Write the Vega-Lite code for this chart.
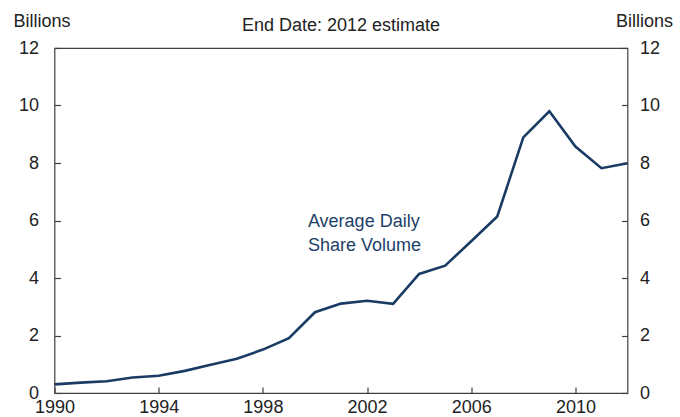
{
  "$schema": "https://vega.github.io/schema/vega-lite/v6.json",
  "width": 573,
  "height": 345,
  "autosize": {"type": "none"},
  "padding": {"left": 54.5, "top": 48, "right": 52.5, "bottom": 24},
  "background": "white",
  "config": {
    "font": "Liberation Sans",
    "view": {"stroke": "#404040", "strokeWidth": 1.2},
    "axis": {
      "domain": false,
      "grid": false,
      "tickColor": "#404040",
      "tickSize": -6,
      "tickWidth": 1.2,
      "labelFontSize": 18,
      "labelColor": "#222222",
      "titleFontSize": 18,
      "titleFontWeight": "normal",
      "titleColor": "#222222"
    }
  },
  "title": {
    "text": "End Date: 2012 estimate",
    "anchor": "middle",
    "frame": "group",
    "baseline": "alphabetic",
    "fontSize": 18,
    "fontWeight": "normal",
    "color": "#222222",
    "offset": 0,
    "dy": 36.5
  },
  "data": {
    "values": [
      {"year": 1990, "volume": 0.30},
      {"year": 1991, "volume": 0.36},
      {"year": 1992, "volume": 0.41},
      {"year": 1993, "volume": 0.54},
      {"year": 1994, "volume": 0.60},
      {"year": 1995, "volume": 0.77},
      {"year": 1996, "volume": 0.98},
      {"year": 1997, "volume": 1.19},
      {"year": 1998, "volume": 1.51},
      {"year": 1999, "volume": 1.91},
      {"year": 2000, "volume": 2.81},
      {"year": 2001, "volume": 3.11},
      {"year": 2002, "volume": 3.21},
      {"year": 2003, "volume": 3.10},
      {"year": 2004, "volume": 4.14},
      {"year": 2005, "volume": 4.43},
      {"year": 2006, "volume": 5.28},
      {"year": 2007, "volume": 6.14},
      {"year": 2008, "volume": 8.89},
      {"year": 2009, "volume": 9.80},
      {"year": 2010, "volume": 8.57},
      {"year": 2011, "volume": 7.82},
      {"year": 2012, "volume": 7.99}
    ]
  },
  "layer": [
    {
      "layer": [
        {
          "mark": {"type": "line", "color": "#1a3c64", "strokeWidth": 2.6, "clip": false},
          "encoding": {
            "x": {
              "field": "year",
              "type": "quantitative",
              "scale": {"domain": [1990, 2012], "nice": false, "zero": false},
              "axis": {
                "values": [1990, 1994, 1998, 2002, 2006, 2010],
                "format": "d",
                "title": null,
                "labelPadding": 11,
                "labelFlush": false,
                "labelOverlap": false
              }
            },
            "y": {
              "field": "volume",
              "type": "quantitative",
              "scale": {"domain": [0, 12], "nice": false},
              "axis": {
                "values": [0, 2, 4, 6, 8, 10, 12],
                "orient": "left",
                "labelPadding": 22,
                "title": "Billions",
                "titleAngle": 0,
                "titleAlign": "left",
                "titleBaseline": "alphabetic",
                "titleX": -41.5,
                "titleY": -21.5
              }
            }
          }
        },
        {
          "data": {"values": [{"x": 1999.73, "y": 5.78, "label": ["Average Daily", "Share Volume"]}]},
          "mark": {"type": "text", "align": "left", "baseline": "alphabetic", "fontSize": 18, "lineHeight": 24, "color": "#1d3f6a"},
          "encoding": {
            "x": {"field": "x", "type": "quantitative"},
            "y": {"field": "y", "type": "quantitative"},
            "text": {"field": "label"}
          }
        }
      ]
    },
    {
      "mark": {"type": "line", "opacity": 0, "clip": false},
      "encoding": {
        "x": {"field": "year", "type": "quantitative", "scale": {"domain": [1990, 2012], "nice": false, "zero": false}},
        "y": {
          "field": "volume",
          "type": "quantitative",
          "scale": {"domain": [0, 12], "nice": false},
          "axis": {
            "values": [0, 2, 4, 6, 8, 10, 12],
            "orient": "right",
            "labelPadding": 18,
            "title": "Billions",
            "titleAngle": 0,
            "titleAlign": "right",
            "titleBaseline": "alphabetic",
            "titleX": 45,
            "titleY": -21.5
          }
        }
      }
    }
  ],
  "resolve": {"scale": {"y": "independent"}}
}
